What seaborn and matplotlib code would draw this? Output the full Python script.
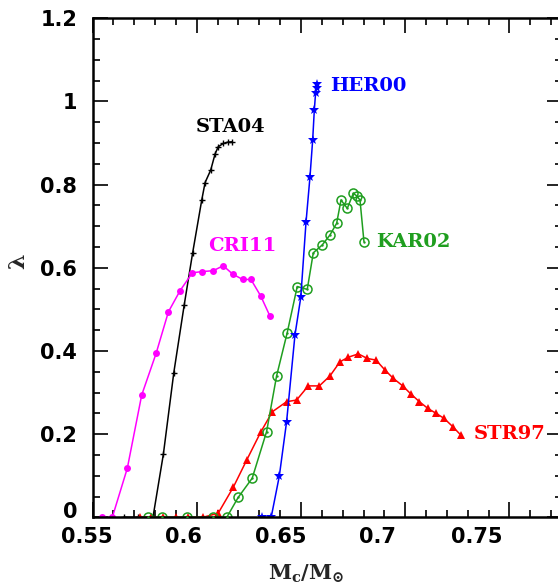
import numpy as np
import pandas as pd
import matplotlib
matplotlib.use("Agg")
import matplotlib.pyplot as plt
import matplotlib.transforms as mtransforms
import seaborn as sns

# ---- data ----
sta04_x = [0.565, 0.572, 0.579, 0.584, 0.589, 0.594, 0.598, 0.6024, 0.604, 0.6067, 0.6088, 0.6103, 0.6127, 0.6148, 0.6168]
sta04_y = [0.0, 0.0, 0.0, 0.152, 0.348, 0.511, 0.635, 0.763, 0.805, 0.835, 0.874, 0.891, 0.899, 0.902, 0.903]

cri11_x = [0.5547, 0.5595, 0.5667, 0.5736, 0.5805, 0.5864, 0.5920, 0.5979, 0.6027, 0.6079, 0.6127, 0.6172, 0.6220, 0.6260, 0.6307, 0.6351]
cri11_y = [0.0, 0.0, 0.118, 0.294, 0.394, 0.494, 0.545, 0.588, 0.591, 0.593, 0.605, 0.585, 0.572, 0.572, 0.532, 0.484]

her00_x = [0.6311, 0.6357, 0.6396, 0.6431, 0.6471, 0.6499, 0.6524, 0.6543, 0.6556, 0.6564, 0.6570, 0.6575, 0.6578]
her00_y = [0.0, 0.0, 0.099, 0.230, 0.438, 0.529, 0.709, 0.818, 0.907, 0.980, 1.020, 1.032, 1.042]

kar02_x = [0.5766, 0.5832, 0.5952, 0.6078, 0.6144, 0.6199, 0.6266, 0.6335, 0.6383, 0.6434, 0.6482, 0.6530,
           0.6559, 0.6602, 0.6639, 0.6671, 0.6692, 0.6722, 0.6751, 0.6767, 0.6783, 0.6802]
kar02_y = [0.0, 0.0, 0.0, 0.0, 0.0, 0.048, 0.094, 0.206, 0.340, 0.444, 0.555, 0.548,
           0.636, 0.655, 0.679, 0.707, 0.763, 0.743, 0.779, 0.773, 0.763, 0.663]

str97_x = [0.573, 0.578, 0.584, 0.590, 0.596, 0.603, 0.6103, 0.6175, 0.6240, 0.6307, 0.6363, 0.6431, 0.6479,
           0.6535, 0.6588, 0.6639, 0.6687, 0.6727, 0.6775, 0.6818, 0.6860, 0.6903, 0.6943, 0.6988,
           0.7026, 0.7068, 0.7108, 0.7148, 0.7186, 0.7228, 0.7266]
str97_y = [0.0, 0.0, 0.0, 0.0, 0.0, 0.0, 0.010, 0.072, 0.138, 0.205, 0.254, 0.278, 0.282,
           0.316, 0.316, 0.340, 0.374, 0.385, 0.393, 0.382, 0.378, 0.354, 0.334, 0.316,
           0.297, 0.278, 0.262, 0.250, 0.238, 0.218, 0.198]

series_names = ["STA04", "CRI11", "HER00", "KAR02", "STR97"]
series_colors = ["black", "#ff00ff", "#0000ff", "#1f9e1f", "#ff0000"]
label_pos = {"STA04": (0.6164, 0.9375), "CRI11": (0.6217, 0.652), "HER00": (0.6821, 1.036),
             "KAR02": (0.7037, 0.663), "STR97": (0.7502, 0.2003)}

x_major = [0.55, 0.60, 0.65, 0.70, 0.75]
x_ticklabels = ["0.55", "0.6", "0.65", "0.7", "0.75"]
y_major = [0, 0.2, 0.4, 0.6, 0.8, 1.0, 1.2]
y_ticklabels = ["0", "0.2", "0.4", "0.6", "0.8", "1", "1.2"]

# ---- figure ----
sns.set_style("ticks")
plt.rcParams["font.family"] = ["DejaVu Sans"]
plt.rcParams["mathtext.fontset"] = "dejavuserif"

W, H, DPI = 558, 586, 100
fig = plt.figure(figsize=(W / DPI, H / DPI), dpi=DPI)
ax = fig.add_axes([92.5 / W, (H - 517.3) / H, 469.1 / W, 499.0 / H])

def df(x, y):
    return pd.DataFrame({"x": x, "y": y})

lw = 1.1
sns.lineplot(data=df(sta04_x, sta04_y), x="x", y="y", sort=False, estimator=None, ax=ax,
             color=series_colors[0], lw=lw, marker="+", markersize=5, markeredgewidth=1.0,
             markeredgecolor=series_colors[0])
sns.lineplot(data=df(cri11_x, cri11_y), x="x", y="y", sort=False, estimator=None, ax=ax,
             color=series_colors[1], lw=lw, marker="o", markersize=5, markeredgewidth=0)
sns.lineplot(data=df(str97_x, str97_y), x="x", y="y", sort=False, estimator=None, ax=ax,
             color=series_colors[4], lw=lw, marker="^", markersize=5.5, markeredgewidth=0)
sns.lineplot(data=df(kar02_x, kar02_y), x="x", y="y", sort=False, estimator=None, ax=ax,
             color=series_colors[3], lw=lw, marker="o", markersize=6.5, markerfacecolor="none",
             markeredgecolor=series_colors[3], markeredgewidth=1.1)
sns.scatterplot(data=df(kar02_x, kar02_y), x="x", y="y", ax=ax, color=series_colors[3],
                s=3, linewidth=0, zorder=4)
sns.lineplot(data=df(her00_x, her00_y), x="x", y="y", sort=False, estimator=None, ax=ax,
             color=series_colors[2], lw=lw, marker="*", markersize=7, markeredgewidth=0)

for name, c in zip(series_names, series_colors):
    px, py = label_pos[name]
    ax.text(px, py, name, color=c, ha="center", va="center", fontsize=14,
            fontweight="bold", family="DejaVu Serif")

ax.set_xlim(0.55, 0.775)
ax.set_ylim(0, 1.2)
ax.set_xticks(x_major)
ax.set_xticklabels(x_ticklabels)
ax.set_yticks(y_major)
ax.set_yticklabels(y_ticklabels)
ax.xaxis.set_minor_locator(matplotlib.ticker.MultipleLocator(0.01))
ax.yaxis.set_minor_locator(matplotlib.ticker.MultipleLocator(0.05))
ax.tick_params(which="both", direction="in", top=True, right=True, width=1.2, colors="black")
ax.tick_params(which="major", length=10.5)
ax.tick_params(which="minor", length=5)
ax.tick_params(axis="x", which="major", pad=7, labelsize=15)
ax.tick_params(axis="y", which="major", pad=11, labelsize=15)
for lab in ax.get_xticklabels() + ax.get_yticklabels():
    lab.set_fontweight("bold")

# label shift as seen in the reference (labels drift left of ticks)
x_shift_px = [-5.5, -13.75, -20.0, -27.3, -32.75]
for lab, dx in zip(ax.get_xticklabels(), x_shift_px):
    lab.set_transform(lab.get_transform() + mtransforms.ScaledTranslation(dx / DPI, 0, fig.dpi_scale_trans))
ylabs = ax.get_yticklabels()
ylabs[0].set_transform(ylabs[0].get_transform() + mtransforms.ScaledTranslation(0, 7 / DPI, fig.dpi_scale_trans))

for sp in ax.spines.values():
    sp.set_linewidth(1.8)
    sp.set_color("black")

ax.set_xlabel(r"$\mathbf{M_c/M_{\odot}}$", fontsize=15)
ax.set_ylabel(r"$\mathbf{\lambda}$", fontsize=16, rotation=90)
ax.xaxis.set_label_coords(0.455, -0.090)
ax.yaxis.set_label_coords(-0.135, 0.5116)

fig.savefig("out.png", dpi=DPI)
